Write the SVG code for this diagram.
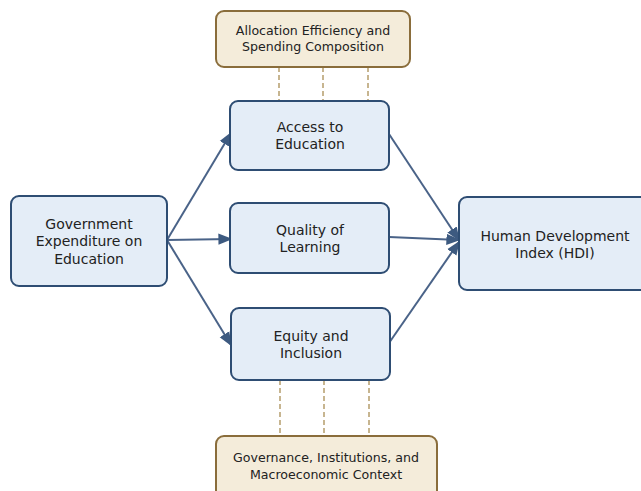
<svg xmlns="http://www.w3.org/2000/svg" width="641" height="491" viewBox="0 0 641 491">
<style>
.b{fill:#e4edf7;stroke:#2e4d73;stroke-width:2}
.c{fill:#f4ecda;stroke:#8a6d3b;stroke-width:2}
text{font-family:"DejaVu Sans",sans-serif;font-size:14px;fill:#222;text-anchor:middle}
.s{font-size:12.6px}
.d{stroke:#b59d6c;stroke-width:1.5;stroke-dasharray:5,3;fill:none}
.a{stroke:#4a6388;stroke-width:2;fill:none;marker-end:url(#ah)}
</style>
<defs>
<marker id="ah" viewBox="0 0 10 10" refX="9" refY="5" markerWidth="14" markerHeight="14" markerUnits="userSpaceOnUse" orient="auto">
<path d="M0,1 L10,5 L0,9 z" fill="#3d5a80"/>
</marker>
</defs>
<g id="connectors">
<line class="d" x1="279" y1="67" x2="279" y2="101"/>
<line class="d" x1="323" y1="67" x2="323" y2="101"/>
<line class="d" x1="368" y1="67" x2="368" y2="101"/>
<line class="d" x1="280" y1="380" x2="280" y2="436"/>
<line class="d" x1="324" y1="380" x2="324" y2="436"/>
<line class="d" x1="369" y1="380" x2="369" y2="436"/>
<line class="a" x1="167" y1="240" x2="231" y2="133"/>
<line class="a" x1="167" y1="240" x2="231" y2="239"/>
<line class="a" x1="167" y1="240" x2="231" y2="345"/>
<line class="a" x1="389" y1="134" x2="459" y2="240"/>
<line class="a" x1="389" y1="237" x2="459" y2="240"/>
<line class="a" x1="389" y1="343" x2="459" y2="242"/>
</g>
<g id="allocation">
<rect class="c" x="216" y="11" width="194" height="56" rx="8"/>
<text class="s" x="313" y="35">Allocation Efficiency and</text>
<text class="s" x="313" y="51">Spending Composition</text>
</g>
<g id="access">
<rect class="b" x="230" y="101" width="159" height="69" rx="8"/>
<text x="310" y="132">Access to</text>
<text x="310" y="149">Education</text>
</g>
<g id="quality">
<rect class="b" x="230" y="203" width="159" height="70" rx="8"/>
<text x="310" y="235">Quality of</text>
<text x="310" y="252">Learning</text>
</g>
<g id="equity">
<rect class="b" x="231" y="308" width="159" height="72" rx="8"/>
<text x="311" y="341">Equity and</text>
<text x="311" y="358">Inclusion</text>
</g>
<g id="government">
<rect class="b" x="11" y="196" width="156" height="90" rx="8"/>
<text x="89" y="229">Government</text>
<text x="89" y="246">Expenditure on</text>
<text x="89" y="264">Education</text>
</g>
<g id="hdi">
<rect class="b" x="459" y="197" width="192" height="93" rx="8"/>
<text x="555" y="241">Human Development</text>
<text x="555" y="258">Index (HDI)</text>
</g>
<g id="governance">
<rect class="c" x="216" y="436" width="221" height="70" rx="8"/>
<text class="s" x="326" y="462">Governance, Institutions, and</text>
<text class="s" x="326" y="479">Macroeconomic Context</text>
</g>
</svg>
